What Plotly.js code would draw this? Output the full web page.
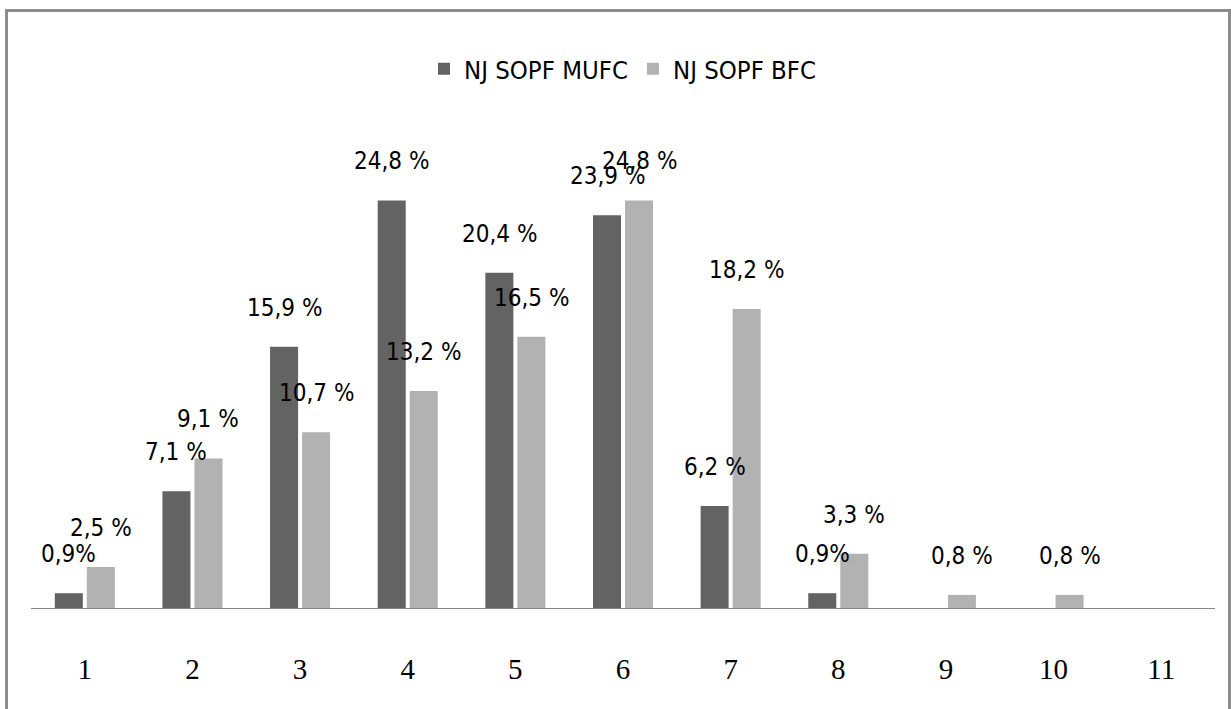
<!DOCTYPE html>
<html>
<head>
<meta charset="utf-8">
<script src="https://cdn.plot.ly/plotly-3.0.1.min.js"></script>
<style>
  html, body { margin: 0; padding: 0; background: #ffffff; }
  #frame { position: absolute; left: 5px; top: 9px; width: 1220px; height: 760px;
           border: 3px solid #8c8c8c; border-bottom: none; box-sizing: content-box; }
  #chart { position: absolute; left: 0; top: 0; width: 1231px; height: 709px; }
</style>
</head>
<body>
<div id="frame"></div>
<div id="chart"></div>
<script>
// ---- data ----
const categories = ["1","2","3","4","5","6","7","8","9","10","11"];
const mufcName = "NJ SOPF MUFC";
const bfcName = "NJ SOPF BFC";
const mufcValues = [0.9, 7.1, 15.9, 24.8, 20.4, 23.9, 6.2, 0.9, null, null, null];
const bfcValues  = [2.5, 9.1, 10.7, 13.2, 16.5, 24.8, 18.2, 3.3, 0.8, 0.8, null];
const mufcLabels = ["0,9%", "7,1 %", "15,9 %", "24,8 %", "20,4 %", "23,9 %", "6,2 %", "0,9%", null, null, null];
const bfcLabels  = ["2,5 %", "9,1 %", "10,7 %", "13,2 %", "16,5 %", "24,8 %", "18,2 %", "3,3 %", "0,8 %", "0,8 %", null];

const darkColor = "#636363";
const lightColor = "#b2b2b2";
const sansNarrow = "'Liberation Sans Narrow', 'DejaVu Sans Condensed', 'Liberation Sans', sans-serif";
const labelFont = { family: sansNarrow, size: 24, color: "#000000" };

const traces = [
  { type: "bar", name: mufcName, x: categories, y: mufcValues, marker: { color: darkColor }, hoverinfo: "x+y" },
  { type: "bar", name: bfcName,  x: categories, y: bfcValues,  marker: { color: lightColor }, hoverinfo: "x+y" }
];

const annotations = [];
function addLabels(values, labels, shift) {
  categories.forEach((c, i) => {
    if (values[i] === null || labels[i] === null) return;
    annotations.push({
      x: i, y: values[i], xref: "x", yref: "y", text: labels[i], showarrow: false,
      xshift: shift, yshift: 39, yanchor: "middle", xanchor: "center", font: labelFont
    });
  });
}
addLabels(mufcValues, mufcLabels, -16);
addLabels(bfcValues, bfcLabels, 16);

const layout = {
  width: 1231, height: 709,
  margin: { l: 31, r: 16, t: 115, b: 101 },
  paper_bgcolor: "rgba(0,0,0,0)",
  plot_bgcolor: "rgba(0,0,0,0)",
  barmode: "group",
  bargap: 0.405,
  bargroupgap: 0.125,
  showlegend: true,
  legend: {
    orientation: "h", x: 0.5, xanchor: "center", xref: "paper",
    y: 1.093, yanchor: "middle", yref: "paper",
    font: { family: sansNarrow, size: 25.5, color: "#000000" },
    bgcolor: "rgba(0,0,0,0)"
  },
  xaxis: {
    type: "category", categoryorder: "array", categoryarray: categories,
    range: [-0.5, 10.5],
    showline: true, linecolor: "#868686", linewidth: 1,
    showgrid: false, zeroline: false,
    ticks: "outside", ticklen: 35, tickcolor: "rgba(0,0,0,0)",
    tickfont: { family: "'Liberation Serif', 'DejaVu Serif', serif", size: 29, color: "#000000" },
    fixedrange: true
  },
  yaxis: {
    range: [0, 30], visible: false, showgrid: false, zeroline: false, fixedrange: true
  },
  annotations: annotations
};

Plotly.newPlot("chart", traces, layout, { displayModeBar: false, staticPlot: true });
</script>
</body>
</html>
